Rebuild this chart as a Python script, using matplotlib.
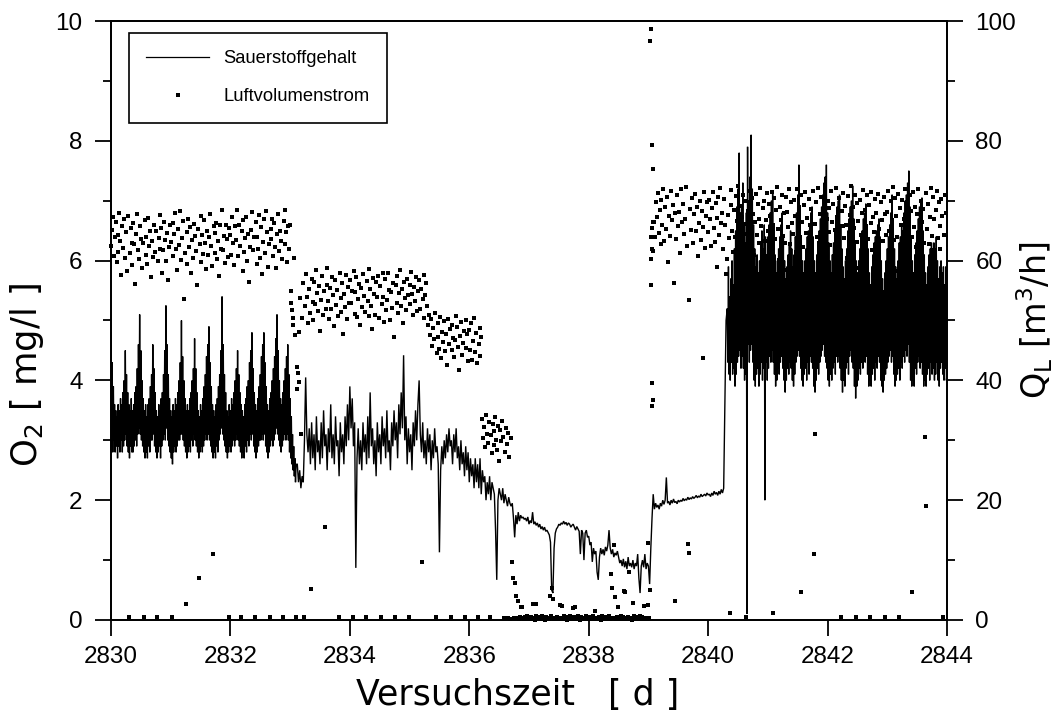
import numpy as np
import matplotlib
matplotlib.use("Agg")
import matplotlib.pyplot as plt
from matplotlib.ticker import MultipleLocator
from matplotlib.lines import Line2D

plt.rcParams['font.family'] = ['Liberation Sans', 'DejaVu Sans']
plt.rcParams['mathtext.fontset'] = 'dejavusans'

# ---------------------------------------------------------------
# Oxygen content O2 [mg/l] in four consecutive runs
# (aerated runs logged every 0.01 d, the others every 0.02 d)
# ---------------------------------------------------------------
o2_start = [2830.00, 2833.12, 2836.72, 2840.32]
o2_steps = [0.01, 0.02, 0.02, 0.01]

o2_run1 = [
    4.8, 2.9, 4.3, 2.8, 3.9, 3.0, 3.6, 2.8, 3.5, 2.9,
    3.4, 2.7, 3.6, 2.9, 3.5, 2.8, 3.7, 3.0, 3.6, 2.8,
    3.8, 2.9, 4.0, 3.0, 4.5, 3.1, 4.1, 2.9, 3.8, 2.8,
    3.6, 2.7, 3.5, 2.9, 3.7, 2.8, 3.5, 2.8, 3.6, 2.9,
    3.8, 3.0, 3.9, 2.9, 4.2, 3.1, 4.6, 3.2, 5.1, 3.1,
    4.5, 3.0, 4.0, 2.9, 3.7, 2.8, 3.5, 2.7, 3.6, 2.8,
    3.4, 2.7, 3.6, 2.9, 3.7, 2.8, 3.9, 3.0, 4.1, 3.0,
    4.6, 3.1, 4.2, 2.9, 3.8, 2.8, 3.5, 2.7, 3.4, 2.8,
    3.6, 2.9, 3.5, 2.7, 3.7, 2.9, 3.8, 3.0, 4.1, 3.1,
    4.5, 3.0, 5.25, 3.2, 4.6, 3.0, 4.1, 2.9, 3.7, 2.8,
    3.5, 2.7, 3.4, 2.6, 3.6, 2.8, 3.5, 2.9, 3.7, 2.8,
    3.6, 2.9, 3.8, 3.0, 4.0, 3.0, 4.3, 3.1, 5.0, 3.1,
    4.4, 3.0, 4.0, 2.9, 3.7, 2.8, 3.5, 2.7, 3.6, 2.8,
    3.5, 2.9, 3.7, 2.8, 3.8, 3.0, 4.0, 2.9, 4.2, 3.1,
    4.7, 3.0, 4.2, 2.9, 3.8, 2.8, 3.5, 2.7, 3.4, 2.8,
    3.6, 2.9, 3.5, 2.8, 3.7, 2.9, 3.9, 3.0, 4.1, 3.1,
    4.4, 3.0, 4.6, 3.1, 4.9, 3.0, 4.3, 2.9, 3.9, 2.8,
    3.6, 2.7, 3.5, 2.8, 3.4, 2.7, 3.6, 2.9, 3.7, 2.8,
    3.9, 3.0, 4.1, 3.1, 4.5, 3.2, 5.4, 3.1, 4.6, 3.0,
    4.1, 2.9, 3.8, 2.8, 3.5, 2.7, 3.4, 2.8, 3.6, 2.9,
    3.5, 2.8, 3.7, 2.9, 3.6, 3.0, 3.8, 2.9, 4.0, 3.0,
    4.2, 3.1, 4.5, 3.0, 4.1, 2.9, 3.8, 2.8, 3.6, 2.7,
    3.5, 2.8, 3.4, 2.7, 3.6, 2.9, 3.7, 2.8, 3.9, 3.0,
    4.0, 2.9, 4.3, 3.1, 4.5, 3.0, 4.8, 3.1, 4.2, 2.9,
    3.8, 2.8, 3.6, 2.7, 3.5, 2.8, 3.7, 2.9, 3.9, 3.0,
    4.1, 3.0, 4.4, 3.1, 4.6, 3.0, 4.8, 3.1, 4.3, 2.9,
    3.9, 2.8, 3.6, 2.7, 3.5, 2.8, 3.7, 2.9, 3.8, 3.0,
    4.0, 2.9, 4.2, 3.0, 4.4, 3.1, 4.7, 3.2, 5.1, 3.1,
    4.5, 3.0, 4.0, 2.9, 3.7, 2.8, 3.6, 2.9, 3.8, 3.0,
    4.0, 3.1, 4.2, 3.0, 4.4, 3.1, 4.6, 3.0, 4.1, 2.8,
    3.7, 2.7, 3.4, 2.6, 3.1, 2.5, 2.9, 2.4, 2.7, 2.3,
    2.6,
]

o2_run2 = [
    2.6, 2.3, 2.5, 2.2, 2.4, 2.3, 3.0, 4.05, 3.1, 2.8,
    3.2, 2.6, 3.3, 2.7, 3.1, 2.5, 3.4, 2.8, 3.0, 2.6,
    3.3, 2.7, 3.5, 2.9, 3.1, 2.5, 3.2, 2.8, 3.6, 2.7,
    3.1, 2.6, 3.4, 2.9, 3.0, 2.4, 3.3, 2.8, 3.1, 2.6,
    3.4, 2.9, 3.6, 3.0, 3.9, 3.2, 3.7, 2.9, 3.3, 0.87,
    2.7, 3.2, 2.6, 3.0, 2.5, 3.3, 2.8, 3.1, 2.6, 3.4,
    2.7, 3.8, 2.9, 3.2, 2.6, 3.0, 2.4, 3.3, 2.8, 3.1,
    2.6, 3.4, 2.9, 3.2, 2.7, 3.5, 2.8, 3.0, 2.5, 3.3,
    2.9, 3.5, 3.0, 3.3, 2.7, 3.6, 3.1, 3.8, 3.2, 4.42,
    3.0, 3.4, 2.6, 3.2, 2.8, 3.1, 2.5, 3.3, 2.9, 3.5,
    3.0, 3.6, 4.0, 3.1, 2.8, 3.3, 2.7, 3.0, 2.6, 3.2,
    2.8, 3.1, 2.5, 3.0, 2.7, 3.2, 2.8, 2.9, 2.6, 1.13,
    2.5, 2.9, 2.6, 3.0, 2.7, 3.1, 2.8, 3.2, 2.9, 3.0,
    2.6, 3.1, 2.8, 3.2, 2.7, 2.9, 2.5, 3.0, 2.6, 2.8,
    2.4, 2.9, 2.5, 2.8, 2.3, 2.7, 2.4, 2.6, 2.2, 2.7,
    2.3, 2.6, 2.2, 2.7, 2.1, 2.5, 2.3, 2.4, 2.0, 2.3,
    2.1, 2.4, 2.0, 2.3, 2.2, 2.1, 1.5, 0.67, 2.0, 2.2,
    2.1, 2.0, 2.2, 1.95, 2.1, 2.0, 1.9, 2.05, 1.95, 1.9,
]

o2_run3 = [
    1.95, 1.7, 1.38, 1.75, 1.6, 1.8, 1.65, 1.75, 1.7, 1.72,
    1.68, 1.7, 1.65, 1.72, 1.6, 1.66, 1.62, 1.8, 1.6, 1.64,
    1.58, 1.62, 1.55, 1.6, 1.52, 1.56, 1.5, 1.55, 1.48, 1.5,
    1.46, 1.42, 1.3, 0.5, 0.45, 1.2, 1.45, 1.52, 1.55, 1.6,
    1.58, 1.62, 1.6, 1.65, 1.6, 1.63, 1.58, 1.62, 1.6, 1.55,
    1.58, 1.6, 1.55, 1.5, 1.56, 1.52, 1.48, 1.1, 1.5, 1.45,
    1.0, 1.45, 1.5, 1.38, 1.4, 1.25, 1.3, 0.97, 1.2, 1.1,
    1.15, 0.8, 0.67, 1.05, 1.2, 1.1, 1.18, 1.08, 1.22, 1.15,
    1.25, 1.5, 1.2, 1.1, 1.18, 1.05, 1.12, 1.08, 1.15, 1.05,
    0.95, 1.0, 0.9, 1.02, 0.88, 0.98, 0.85, 1.05, 0.9, 0.95,
    0.88, 1.0, 0.85, 0.95, 0.9, 1.1, 0.7, 0.45, 0.9, 1.0,
    0.88, 1.1, 0.85, 0.95, 0.9, 0.6, 1.2, 1.7, 2.1, 1.85,
    1.95, 1.88, 1.92, 1.85, 1.95, 1.9, 2.0, 1.93, 2.0, 2.38,
    1.95, 1.98, 1.92, 2.0, 1.95, 2.02, 1.96, 1.98, 1.94, 2.0,
    1.97, 2.0, 1.98, 2.03, 1.99, 2.02, 2.0, 2.05, 2.01, 2.04,
    2.02, 2.06, 2.03, 2.05, 2.08, 2.04, 2.07, 2.05, 2.1, 2.06,
    2.08, 2.1, 2.07, 2.12, 2.09, 2.1, 2.06, 2.12, 2.08, 2.15,
    2.1, 2.13, 2.08, 2.15, 2.1, 2.18, 2.12, 2.2, 3.6, 5.0,
]

o2_run4 = [
    5.2, 4.3, 5.9, 4.1, 5.4, 4.0, 5.7, 4.3, 6.0, 4.1,
    5.6, 4.2, 6.2, 3.9, 6.5, 4.1, 6.9, 4.3, 7.2, 4.4,
    7.8, 4.5, 6.8, 4.2, 6.9, 4.4, 7.3, 4.2, 6.6, 4.0,
    6.3, 4.1, 6.8, 0.1, 7.9, 4.6, 7.0, 4.3, 7.4, 4.5,
    8.1, 4.6, 7.2, 4.3, 6.6, 4.0, 6.2, 3.9, 5.9, 4.1,
    6.1, 4.2, 5.8, 3.9, 6.0, 4.1, 6.3, 4.3, 6.5, 4.0,
    6.2, 4.2, 6.6, 2.0, 6.4, 4.3, 6.1, 4.0, 6.4, 4.2,
    6.6, 4.4, 6.8, 4.3, 7.0, 4.5, 7.17, 4.3, 6.6, 4.1,
    6.1, 3.9, 5.8, 4.0, 6.0, 4.2, 6.2, 4.1, 6.4, 4.3,
    6.6, 4.4, 6.8, 4.2, 6.4, 4.0, 6.0, 3.8, 5.7, 4.0,
    5.9, 4.2, 6.1, 4.1, 6.3, 4.3, 6.5, 4.2, 6.2, 4.0,
    5.9, 3.9, 6.1, 4.1, 6.4, 4.3, 6.8, 4.4, 7.1, 4.5,
    7.6, 4.4, 6.9, 4.2, 6.4, 4.0, 6.0, 3.9, 5.8, 4.1,
    6.0, 4.2, 6.2, 4.0, 6.4, 4.3, 6.5, 4.1, 6.6, 4.4,
    6.8, 4.3, 6.9, 4.2, 6.4, 3.9, 6.0, 3.8, 5.8, 4.0,
    6.1, 4.2, 6.3, 4.1, 6.5, 4.3, 6.7, 4.4, 6.9, 4.5,
    7.1, 4.6, 7.3, 4.4, 7.4, 4.3, 7.6, 4.2, 6.8, 4.0,
    6.3, 3.9, 6.0, 4.1, 5.8, 4.0, 6.1, 4.2, 6.3, 4.3,
    6.5, 4.1, 6.7, 4.4, 6.9, 4.3, 7.0, 4.4, 7.1, 4.2,
    6.6, 4.0, 6.2, 3.8, 5.9, 4.0, 5.7, 3.9, 6.0, 4.2,
    6.2, 4.3, 6.5, 4.1, 6.7, 4.4, 6.9, 4.5, 7.0, 4.3,
    7.25, 4.2, 6.7, 3.9, 6.3, 3.7, 6.0, 3.9, 5.8, 4.0,
    6.0, 4.2, 6.2, 4.1, 6.4, 4.3, 6.5, 4.2, 6.7, 4.4,
    6.8, 4.3, 6.95, 4.4, 6.6, 4.1, 6.2, 3.9, 5.8, 4.0,
    5.6, 3.9, 5.9, 4.1, 6.1, 4.2, 6.3, 4.0, 6.4, 4.3,
    6.5, 4.2, 6.6, 4.4, 6.7, 4.3, 6.4, 4.0, 6.0, 3.9,
    5.7, 3.8, 5.5, 4.0, 5.8, 4.1, 6.0, 4.2, 6.2, 4.3,
    6.4, 4.4, 6.6, 4.5, 6.8, 4.3, 7.1, 4.4, 6.7, 4.1,
    6.2, 3.9, 5.9, 4.0, 5.7, 4.1, 6.0, 4.2, 6.3, 4.0,
    6.4, 4.3, 6.6, 4.2, 6.5, 4.4, 6.8, 4.3, 7.0, 4.5,
    7.1, 4.4, 7.3, 4.6, 7.5, 4.3, 6.9, 4.0, 6.4, 3.9,
    6.0, 4.0, 5.8, 3.9, 6.1, 4.2, 6.3, 4.1, 6.5, 4.3,
    6.7, 4.4, 6.9, 4.2, 7.0, 4.3, 7.05, 4.1, 6.5, 3.9,
    6.1, 4.0, 5.8, 3.9, 5.6, 4.1, 5.9, 4.2, 6.1, 4.0,
    6.2, 4.3, 6.3, 4.1, 6.2, 4.2, 6.3, 4.0, 6.2, 4.1,
    6.4, 4.3, 6.0, 4.0, 5.7, 3.9, 5.9, 4.2, 6.0, 4.3,
    5.8, 4.1, 5.9, 4.0, 5.6, 4.2, 5.9, 4.0, 4.1,
]

# ---------------------------------------------------------------
# Air flow Q_L [m3/h], 64 readings per day
# ---------------------------------------------------------------
q_per_day = 64
q_days = [2830, 2831, 2832, 2833, 2834, 2835, 2836,
          2837, 2838, 2839, 2840, 2841, 2842, 2843]

q_2830 = [
    62.4, 65.1, 67.3, 60.8, 63.9, 66.5, 59.7, 64.2, 61.5, 68.0,
    63.3, 57.6, 65.8, 62.1, 66.9, 60.4, 64.7, 58.3, 67.5, 0.5,
    61.2, 65.4, 63.0, 59.2, 66.2, 62.7, 56.1, 64.5, 67.8, 61.8,
    60.2, 65.7, 63.6, 58.8, 62.9, 0.5, 66.7, 61.0, 64.0, 59.5,
    67.1, 62.5, 65.0, 57.2, 63.2, 60.6, 66.0, 61.4, 64.9, 0.5,
    59.9, 63.7, 67.6, 62.0, 65.5, 58.0, 61.7, 66.4, 63.4, 60.0,
    64.6, 56.8, 62.2, 65.9,
]
q_2831 = [
    63.1, 0.5, 66.3, 60.7, 64.4, 67.9, 61.9, 58.5, 65.2, 62.6,
    68.2, 60.1, 63.8, 66.6, 53.6, 61.3, 2.7, 64.8, 59.4, 67.0,
    62.3, 65.6, 57.9, 63.5, 60.5, 66.1, 64.1, 61.6, 55.9, 65.3,
    7.0, 62.8, 67.4, 59.8, 64.3, 61.1, 66.8, 63.0, 58.6, 65.0,
    60.9, 63.9, 67.7, 62.4, 59.1, 11.1, 65.7, 61.2, 64.6, 66.3,
    60.3, 63.2, 57.4, 65.9, 62.0, 68.4, 61.8, 64.1, 59.6, 66.0,
    63.6, 60.6, 0.5, 65.4,
]
q_2832 = [
    64.2, 61.0, 67.2, 62.9, 59.3, 65.8, 63.4, 68.5, 60.7, 66.0,
    62.5, 0.5, 64.9, 58.2, 66.7, 61.5, 63.7, 67.3, 60.0, 64.5,
    56.5, 62.3, 65.1, 68.1, 61.7, 63.9, 0.5, 66.4, 59.5, 64.0,
    62.0, 67.6, 60.4, 65.6, 57.7, 63.1, 66.9, 61.3, 68.3, 64.8,
    59.0, 62.7, 0.5, 65.3, 63.6, 67.0, 60.8, 66.2, 62.2, 58.7,
    64.4, 67.8, 61.6, 65.0, 63.3, 60.2, 0.5, 66.6, 62.8, 68.4,
    64.7, 59.8, 65.7, 61.9,
]
q_2833 = [
    66.0, 55.0, 51.7, 50.5, 60.5, 47.5, 0.5, 42.2, 41.3, 39.8,
    48.0, 53.8, 31.0, 50.5, 56.2, 0.5, 52.4, 57.8, 54.0, 49.6,
    55.3, 51.2, 5.2, 57.0, 53.1, 50.0, 56.5, 52.7, 58.5, 54.6,
    51.6, 55.8, 48.3, 53.5, 57.4, 50.9, 54.9, 15.6, 52.0, 56.0,
    58.8, 53.3, 50.3, 55.5, 51.9, 57.2, 54.2, 49.0, 56.7, 52.6,
    55.1, 50.7, 0.5, 57.9, 53.8, 51.4, 56.3, 47.8, 54.4, 52.2,
    57.6, 50.2, 55.6, 53.0,
]
q_2834 = [
    56.8, 52.9, 55.0, 0.5, 58.2, 51.1, 54.7, 57.3, 50.6, 53.6,
    56.1, 49.3, 55.4, 52.3, 57.7, 54.1, 51.5, 0.5, 56.6, 53.2,
    58.6, 50.8, 55.2, 52.5, 48.5, 57.1, 54.5, 51.0, 56.4, 53.9,
    57.5, 50.4, 55.7, 0.5, 52.8, 58.0, 54.0, 49.8, 56.9, 51.8,
    53.4, 57.9, 55.1, 50.1, 54.8, 52.1, 56.2, 47.3, 0.5, 55.9,
    53.0, 57.4, 51.3, 54.6, 58.4, 52.5, 55.3, 49.5, 56.5, 53.7,
    51.7, 57.0, 54.3, 0.5,
]
q_2835 = [
    56.0, 52.7, 58.1, 54.4, 50.9, 55.6, 53.3, 57.2, 51.6, 54.9,
    56.7, 52.0, 55.2, 9.7, 53.6, 57.6, 50.5, 54.2, 56.3, 52.4,
    49.2, 51.0, 47.6, 50.2, 45.8, 48.7, 46.9, 51.2, 0.5, 44.5,
    49.6, 47.2, 45.3, 50.6, 43.7, 48.1, 46.4, 49.9, 44.9, 47.8,
    42.6, 50.3, 46.0, 48.5, 0.5, 45.1, 49.3, 47.0, 43.9, 46.7,
    50.8, 48.9, 45.6, 41.8, 47.4, 49.7, 44.2, 46.2, 48.3, 0.5,
    45.4, 50.0, 47.7, 43.2,
]
q_2836 = [
    48.4, 45.0, 49.5, 43.4, 46.6, 50.4, 44.7, 47.9, 42.9, 0.5,
    46.1, 48.8, 44.0, 47.3, 33.6, 30.4, 32.2, 28.9, 34.3, 31.1,
    29.6, 33.0, 0.5, 30.9, 27.8, 32.7, 31.5, 29.2, 33.9, 30.1,
    28.4, 32.4, 26.5, 31.8, 29.9, 33.3, 30.6, 0.3, 28.1, 32.0,
    29.4, 0.4, 31.3, 27.2, 0.2, 30.3, 9.7, 7.0, 0.3, 6.2,
    4.0, 0.4, 3.1, 0.2, 0.5, 2.2, 0.3, 2.2, 0.4, 0.1,
    0.5, 0.3, 0.6, 0.2,
]
q_2837 = [
    0.3, 0.1, 0.5, 0.2, 2.7, 0.4, 0.0, 0.6, 2.6, 0.3,
    0.2, 0.5, 0.1, 0.4, 0.7, 0.2, 0.3, 0.0, 0.5, 0.2,
    0.4, 0.1, 4.0, 0.3, 0.6, 5.3, 3.5, 0.2, 0.4, 0.1,
    0.5, 0.3, 0.2, 2.5, 0.4, 2.4, 0.1, 0.6, 0.3, 0.2,
    0.5, 0.0, 0.4, 0.2, 0.7, 0.3, 0.1, 2.0, 0.5, 2.1,
    0.2, 0.4, 0.1, 0.6, 0.3, 0.0, 0.5, 0.2, 0.4, 0.3,
    0.1, 0.6, 0.2, 0.4,
]
q_2838 = [
    0.3, 0.5, 0.1, 0.4, 0.2, 0.6, 0.3, 1.5, 0.1, 0.4,
    0.2, 0.5, 0.3, 0.0, 0.6, 0.2, 0.4, 0.1, 0.5, 0.3,
    0.2, 0.4, 0.7, 0.1, 7.7, 5.3, 0.3, 12.5, 3.8, 0.2,
    0.5, 2.2, 0.1, 0.4, 0.3, 0.6, 0.2, 0.5, 4.8, 4.6,
    0.1, 0.3, 0.5, 8.0, 0.2, 0.4, 0.0, 2.8, 0.6, 0.3,
    0.2, 0.5, 0.1, 0.4, 0.3, 0.6, 0.2, 0.5, 0.1, 2.4,
    0.3, 0.4, 0.2, 12.8,
]
q_2839 = [
    2.5, 0.3, 5.0, 60.2, 65.5, 61.6, 66.5, 63.9, 69.8, 67.2,
    71.3, 64.6, 68.4, 62.8, 70.1, 66.0, 72.0, 63.2, 68.9, 65.3,
    70.6, 59.7, 67.5, 64.1, 71.6, 66.8, 69.2, 56.3, 3.2, 67.9,
    63.6, 70.9, 65.8, 68.1, 61.2, 71.9, 66.4, 69.5, 64.4, 67.0,
    72.3, 62.5, 12.7, 11.2, 53.5, 68.6, 65.1, 70.4, 63.0, 67.7,
    71.1, 64.9, 69.0, 60.7, 66.2, 70.0, 63.5, 68.3, 43.8, 65.6,
    71.5, 62.1, 67.4, 69.7,
]
q_2840 = [
    64.7, 70.2, 66.9, 62.4, 68.8, 71.4, 65.4, 63.1, 69.6, 67.1,
    59.0, 70.7, 64.2, 72.1, 66.3, 68.0, 62.0, 70.3, 65.9, 57.8,
    60.3, 67.6, 63.7, 1.1, 69.3, 71.8, 65.0, 61.4, 68.5, 64.0,
    70.8, 66.6, 72.4, 63.4, 69.1, 58.9, 67.3, 71.0, 64.5, 66.1,
    69.9, 0.5, 62.6, 68.2, 71.7, 65.2, 63.8, 70.5, 67.8, 60.9,
    66.4, 71.2, 64.3, 69.4, 62.9, 67.0, 72.2, 65.7, 61.7, 68.7,
    70.0, 63.3, 66.7, 71.3,
]
q_2841 = [
    64.9, 69.5, 67.4, 62.3, 71.5, 1.1, 66.0, 70.4, 63.6, 68.4,
    72.3, 65.3, 60.1, 69.0, 66.8, 71.0, 64.1, 67.9, 63.0, 70.6,
    58.4, 68.1, 65.6, 71.9, 62.7, 69.7, 66.3, 64.4, 70.1, 67.5,
    61.5, 72.0, 65.0, 68.9, 63.9, 4.6, 70.9, 66.5, 62.2, 69.3,
    71.4, 64.6, 67.1, 59.6, 70.3, 65.9, 68.6, 63.3, 71.7, 11.1,
    66.1, 31.0, 69.8, 64.0, 72.2, 62.9, 67.7, 70.7, 65.4, 60.8,
    68.2, 71.1, 63.7, 66.9,
]
q_2842 = [
    70.0, 64.8, 68.7, 62.6, 71.6, 66.4, 69.4, 57.5, 65.1, 72.1,
    67.3, 63.4, 70.5, 61.0, 0.5, 68.3, 65.7, 71.3, 63.8, 69.1,
    66.0, 60.4, 70.8, 64.5, 67.6, 72.4, 62.4, 68.9, 65.5, 71.0,
    0.5, 63.1, 69.6, 66.6, 58.7, 70.2, 64.3, 67.9, 71.8, 62.9,
    68.4, 65.8, 70.9, 63.6, 69.2, 0.5, 66.2, 71.5, 61.8, 67.2,
    64.7, 70.3, 68.0, 62.1, 71.2, 65.3, 59.4, 69.7, 66.8, 63.2,
    70.6, 0.5, 67.7, 64.2,
]
q_2843 = [
    68.1, 71.7, 65.0, 62.5, 69.9, 66.7, 72.3, 63.5, 70.4, 67.5,
    64.0, 71.1, 58.2, 0.5, 68.8, 65.9, 70.1, 62.8, 67.0, 72.0,
    64.8, 69.3, 66.1, 61.3, 70.9, 68.2, 4.6, 63.9, 71.4, 65.6,
    69.0, 62.2, 67.8, 71.9, 64.6, 59.9, 70.0, 66.5, 68.6, 63.0,
    30.5, 71.3, 19.0, 65.2, 69.5, 62.7, 67.2, 72.2, 64.1, 70.6,
    66.9, 60.6, 68.4, 71.6, 63.8, 69.8, 65.8, 62.0, 70.3, 67.4,
    0.5, 64.3, 71.0, 68.0,
]

# Additional readings logged at the switch-over points
q_extra_t = [2833.02, 2833.05, 2833.12, 2839.03, 2839.05, 2839.06,
             2839.07, 2839.06, 2839.07, 2839.06, 2839.04, 2839.06,
             2839.05, 2839.07]
q_extra_v = [53.0, 49.2, 38.5, 96.7, 98.7, 79.3,
             75.3, 39.5, 36.8, 35.8, 56.0, 62.0,
             64.0, 66.5]

# ---------------------------------------------------------------
# Assemble series
# ---------------------------------------------------------------
o2_runs = [o2_run1, o2_run2, o2_run3, o2_run4]
t_o2 = np.concatenate([s + dt * np.arange(len(r))
                       for s, dt, r in zip(o2_start, o2_steps, o2_runs)])
v_o2 = np.concatenate([np.asarray(r, float) for r in o2_runs])

q_lists = [q_2830, q_2831, q_2832, q_2833, q_2834, q_2835, q_2836,
           q_2837, q_2838, q_2839, q_2840, q_2841, q_2842, q_2843]
t_q = np.concatenate([d + np.arange(len(v)) / q_per_day
                      for d, v in zip(q_days, q_lists)] + [np.asarray(q_extra_t)])
v_q = np.concatenate([np.asarray(v, float) for v in q_lists] + [np.asarray(q_extra_v)])

# ---------------------------------------------------------------
# Figure
# ---------------------------------------------------------------
fig = plt.figure(figsize=(10.58, 7.17), dpi=100)
ax = fig.add_axes([0.1049, 0.1353, 0.7902, 0.8354])

ax.plot(t_o2, v_o2, color='black', lw=1.0, solid_joinstyle='miter')

ax2 = ax.twinx()
ax2.plot(t_q, v_q, ls='none', marker='s', ms=2.6, mew=0, color='black',
         clip_on=False)

ax.set_xlim(2830, 2844)
ax.set_ylim(0, 10)
ax2.set_ylim(0, 100)

ax.xaxis.set_major_locator(MultipleLocator(2))
ax.yaxis.set_major_locator(MultipleLocator(2))
ax.yaxis.set_minor_locator(MultipleLocator(1))
ax2.yaxis.set_major_locator(MultipleLocator(20))
ax2.yaxis.set_minor_locator(MultipleLocator(10))

for a in (ax, ax2):
    for sp in a.spines.values():
        sp.set_linewidth(1.3)
    a.tick_params(which='major', direction='out', length=11.5, width=1.3,
                  labelsize=17.5, color='black')
    a.tick_params(which='minor', direction='out', length=5.5, width=1.3)
ax.tick_params(axis='x', which='major', pad=7, top=False)
ax.tick_params(axis='y', which='both', pad=9, right=False)
ax2.tick_params(axis='y', which='both', pad=9, left=False)

# Axis titles
fig.text(518 / 1058, 1 - 705 / 717, 'Versuchszeit   [ d ]',
         family='DejaVu Sans', fontsize=25, ha='center', va='baseline')
fig.text(27 / 1058, 1 - 375 / 717, r'O$_2$ [ mg/l ]',
         family='DejaVu Sans', fontsize=25.5, rotation=90,
         ha='center', va='center')
fig.text(1035 / 1058, 1 - 320 / 717, r'Q$_\mathrm{L}$ [m$^3$/h]',
         family='DejaVu Sans', fontsize=24, rotation=90,
         ha='center', va='center')

# Legend
handles = [Line2D([], [], color='black', lw=0.9),
           Line2D([], [], ls='none', marker='s', ms=3.2, mew=0, color='black')]
leg = ax2.legend(handles, ['Sauerstoffgehalt', 'Luftvolumenstrom'],
                 loc='upper left', bbox_to_anchor=(0.0215, 0.98),
                 borderaxespad=0, frameon=True, fancybox=False,
                 edgecolor='black', framealpha=1, fontsize=13.2,
                 handlelength=3.4, handletextpad=0.8, labelspacing=1.15,
                 borderpad=0.95, numpoints=1)
leg.get_frame().set_linewidth(1.2)

fig.savefig('out.png', dpi=100)
